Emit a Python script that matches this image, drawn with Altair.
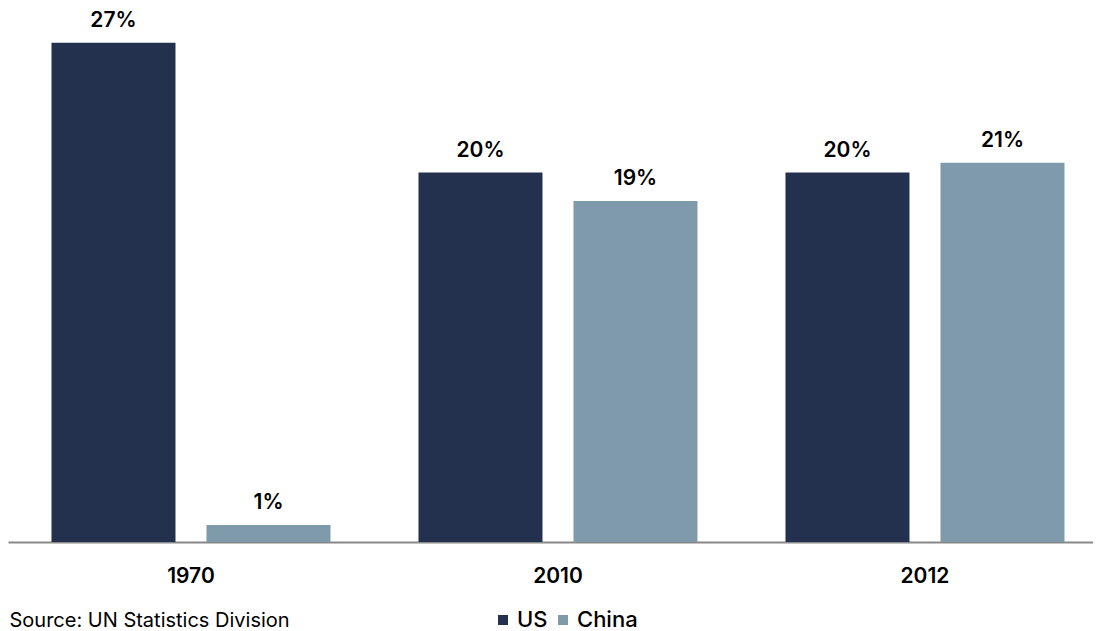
import altair as alt
import pandas as pd

years = ["1970", "2010", "2012"]
series = ["US", "China"]
us_share = [27.3, 20.2, 20.2]
china_share = [0.93, 18.65, 20.74]
colors = ["#23314e", "#7f9aab"]
source_note = ["Source: UN Statistics Division"]

rows = []
for i, yr in enumerate(years):
    rows.append({"year": yr, "country": "US", "share": us_share[i]})
    rows.append({"year": yr, "country": "China", "share": china_share[i]})
df = pd.DataFrame(rows)
df["label"] = df["share"].round().astype(int).astype(str) + "%"

FONT = "Inter"

x = alt.X(
    "year:N",
    sort=years,
    scale=alt.Scale(paddingInner=0.2398, paddingOuter=0.0981, align=0.604),
    axis=alt.Axis(
        title=None, labelAngle=0, labelFont=FONT, labelFontSize=21,
        labelFontWeight=600, labelColor="#000000", labelPadding=23,
        ticks=False, domainColor="#888888", domainWidth=2, grid=False,
    ),
)
xo = alt.XOffset("country:N", sort=series,
                 scale=alt.Scale(paddingInner=0.2, paddingOuter=0))
y = alt.Y("share:Q", scale=alt.Scale(domain=[0, 29.2]), axis=None)
color = alt.Color(
    "country:N",
    sort=series,
    scale=alt.Scale(domain=series, range=colors),
    legend=alt.Legend(
        title=None, orient="none", legendX=484, legendY=601,
        direction="horizontal", symbolType="square", symbolSize=100,
        symbolStrokeWidth=0, labelFont=FONT, labelFontSize=22,
        labelFontWeight=500, labelColor="#000000", labelOffset=3,
        columnPadding=4, padding=0,
    ),
)

bars = alt.Chart(df).mark_bar().encode(x=x, xOffset=xo, y=y, color=color)
labels = alt.Chart(df).mark_text(
    baseline="alphabetic", dy=-16, font=FONT, fontSize=21,
    fontWeight=600, color="#000000",
).encode(x=x, xOffset=xo, y=y, text="label:N")
note = alt.Chart(pd.DataFrame({"note": source_note})).mark_text(
    align="left", baseline="alphabetic", font=FONT, fontSize=20,
    color="#000000",
).encode(x=alt.value(1.5), y=alt.value(618.5), text="note:N")

chart = (
    alt.layer(bars, labels, note)
    .properties(
        width=1085, height=534,
        autosize=alt.AutoSizeParams(type="none"),
        padding={"left": 0, "top": 0, "right": 0, "bottom": 89},
    )
    .configure_view(stroke=None)
)

chart.save("out.html", embed_options={"renderer": "svg", "actions": False})
